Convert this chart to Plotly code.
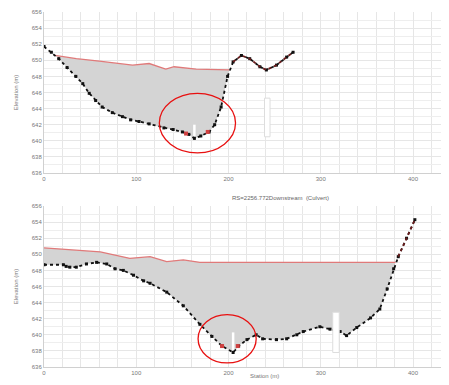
import plotly.graph_objects as go

# ---------------- data ----------------
top_station = [0, 8, 16, 25, 34.5, 42, 49, 56, 63, 74, 85, 94, 103, 114, 130, 140, 150, 157, 163, 170, 179, 185, 192, 199, 205, 214, 223, 234, 241, 252, 263, 270]
top_ground = [651.7, 651.0, 650.2, 649.1, 648.0, 647.1, 645.9, 645.0, 644.2, 643.5, 643.0, 642.6, 642.4, 642.1, 641.6, 641.4, 641.1, 640.8, 640.3, 640.6, 641.1, 642.0, 644.2, 648.0, 649.8, 650.6, 650.2, 649.2, 648.8, 649.4, 650.4, 651.0]
top_ws_station = [12, 35, 60, 80, 96, 114, 132, 141, 165, 201]
top_ws = [650.6, 650.2, 649.9, 649.6, 649.4, 649.6, 648.9, 649.2, 648.9, 648.8]
top_red_station = [154, 177.5]
top_red_elev = [640.9, 641.1]

bot_station = [0, 21, 24, 28, 35, 46, 57, 68, 77, 86, 97, 108, 115, 133, 151, 169, 182, 193, 205, 211, 220, 230, 237, 252, 263, 274, 281, 299, 310, 321, 328, 339, 354, 364, 372, 379, 384, 393, 402]
bot_ground = [648.7, 648.7, 648.5, 648.4, 648.4, 648.8, 649.0, 648.8, 648.2, 648.0, 647.4, 646.7, 646.4, 645.3, 643.6, 641.3, 639.8, 638.6, 637.8, 638.6, 639.4, 640.0, 639.5, 639.4, 639.5, 640.0, 640.4, 641.0, 640.7, 640.4, 639.9, 640.9, 642.1, 643.2, 645.7, 648.2, 649.7, 652.0, 654.3]
bot_ws_station = [0, 61, 93, 115, 133, 151, 169, 381]
bot_ws = [650.8, 650.3, 649.5, 649.7, 649.1, 649.3, 649.0, 649.0]
bot_red_station = [193, 210]
bot_red_elev = [638.6, 638.6]

y_ticks = [636, 638, 640, 642, 644, 646, 648, 650, 652, 654, 656]
x_ticks = [0, 100, 200, 300, 400]
title_bottom = "RS=2256.772Downstream  (Culvert)"

GRID = "#e6e6e6"
FILL = "#d4d4d4"
WS_COL = "#e07a7a"
GROUND = "#111111"

W, H, OFF = 449, 385, 8  # page has an 8px body margin


def fx(px):
    return (px - OFF) / W


def fy(py):
    return 1 - (py - OFF) / H


def fill_polygon(ws_st, ws_el, g_st, g_el):
    lo, hi = ws_st[0], ws_st[-1]
    inner = [(s, e) for s, e in zip(g_st, g_el) if lo <= s <= hi]
    xs = list(ws_st) + [s for s, _ in reversed(inner)]
    ys = list(ws_el) + [e for _, e in reversed(inner)]
    return xs, ys


fig = go.Figure()

panels = [
    ("x", "y", top_station, top_ground, top_ws_station, top_ws, top_red_station, top_red_elev, 200),
    ("x2", "y2", bot_station, bot_ground, bot_ws_station, bot_ws, bot_red_station, bot_red_elev, 380),
]
for xa, ya, gs, ge, ws_s, ws_e, rs, re_, dark_from in panels:
    px, py = fill_polygon(ws_s, ws_e, gs, ge)
    fig.add_trace(go.Scatter(x=px, y=py, fill="toself", fillcolor=FILL, mode="none",
                             xaxis=xa, yaxis=ya, showlegend=False, hoverinfo="skip"))
    fig.add_trace(go.Scatter(x=ws_s, y=ws_e, mode="lines", line=dict(color=WS_COL, width=1.3),
                             xaxis=xa, yaxis=ya, showlegend=False))
    fig.add_trace(go.Scatter(x=gs, y=ge, mode="lines+markers",
                             line=dict(color=GROUND, width=1.8, dash="dot"),
                             marker=dict(size=3, symbol="square", color=GROUND),
                             xaxis=xa, yaxis=ya, showlegend=False))
    ds = [s for s in gs if s >= dark_from]
    de = [e for s, e in zip(gs, ge) if s >= dark_from]
    fig.add_trace(go.Scatter(x=ds, y=de, mode="lines",
                             line=dict(color="#6a1c1c", width=1.8, dash="dot"),
                             xaxis=xa, yaxis=ya, showlegend=False))
    fig.add_trace(go.Scatter(x=rs, y=re_, mode="markers",
                             marker=dict(size=4, symbol="square", color="#d04040"),
                             xaxis=xa, yaxis=ya, showlegend=False))

axis_common = dict(range=[0, 439], tickvals=x_ticks, showgrid=True, gridcolor=GRID, gridwidth=1,
                   minor=dict(dtick=20, showgrid=True, gridcolor=GRID, gridwidth=1),
                   zeroline=False, showline=True, linecolor="#d0d0d0", ticks="", automargin=False,
                   tickfont=dict(size=6, color="#777777", family="Arial"))
yaxis_common = dict(range=[636, 656], tickvals=y_ticks, showgrid=True, gridcolor=GRID, gridwidth=1,
                    minor=dict(dtick=1, showgrid=True, gridcolor="#eeeeee", gridwidth=1),
                    zeroline=False, showline=True, linecolor="#d0d0d0", ticks="", automargin=False,
                    tickfont=dict(size=6, color="#777777", family="Arial"),
                    title=dict(text="Elevation (m)", font=dict(size=6, color="#777777", family="Arial"), standoff=12))

fig.update_layout(
    width=W, height=H,
    margin=dict(l=0, r=0, t=0, b=0),
    paper_bgcolor="white", plot_bgcolor="white",
    xaxis=dict(domain=[fx(44), fx(449)], anchor="y", **axis_common),
    yaxis=dict(domain=[fy(173), fy(12)], anchor="x", **yaxis_common),
    xaxis2=dict(domain=[fx(44), fx(449)], anchor="y2", **axis_common),
    yaxis2=dict(domain=[fy(367), fy(206)], anchor="x2", **yaxis_common),
)

fig.add_annotation(text=title_bottom, x=fx(280), y=fy(198), xref="paper", yref="paper",
                   showarrow=False, font=dict(size=6, color="#666666", family="Arial"))
fig.add_annotation(text="Station (m)", x=fx(264), y=fy(381), xref="paper", yref="paper",
                   showarrow=False, font=dict(size=6, color="#777777", family="Arial"))

shapes = [
    # top panel structures
    dict(type="line", xref="x", yref="y", x0=163, x1=163, y0=640.6, y1=642.0, line=dict(color="white", width=2.5)),
    dict(type="rect", xref="x", yref="y", x0=239, x1=245, y0=640.5, y1=645.3, fillcolor="white", line=dict(color="#dddddd", width=1)),
    dict(type="circle", xref="x", yref="y", x0=125, x1=207.6, y0=638.5, y1=645.9, line=dict(color="#e81010", width=1.3)),
    # bottom panel structures
    dict(type="line", xref="x2", yref="y2", x0=205, x1=205, y0=638.1, y1=640.3, line=dict(color="white", width=2.5)),
    dict(type="rect", xref="x2", yref="y2", x0=313, x1=320, y0=637.8, y1=642.8, fillcolor="white", line=dict(color="#dddddd", width=1)),
    dict(type="circle", xref="x2", yref="y2", x0=167, x1=230, y0=636.5, y1=642.5, line=dict(color="#e81010", width=1.3)),
]
fig.update_layout(shapes=shapes)

fig.write_html("out.html")
